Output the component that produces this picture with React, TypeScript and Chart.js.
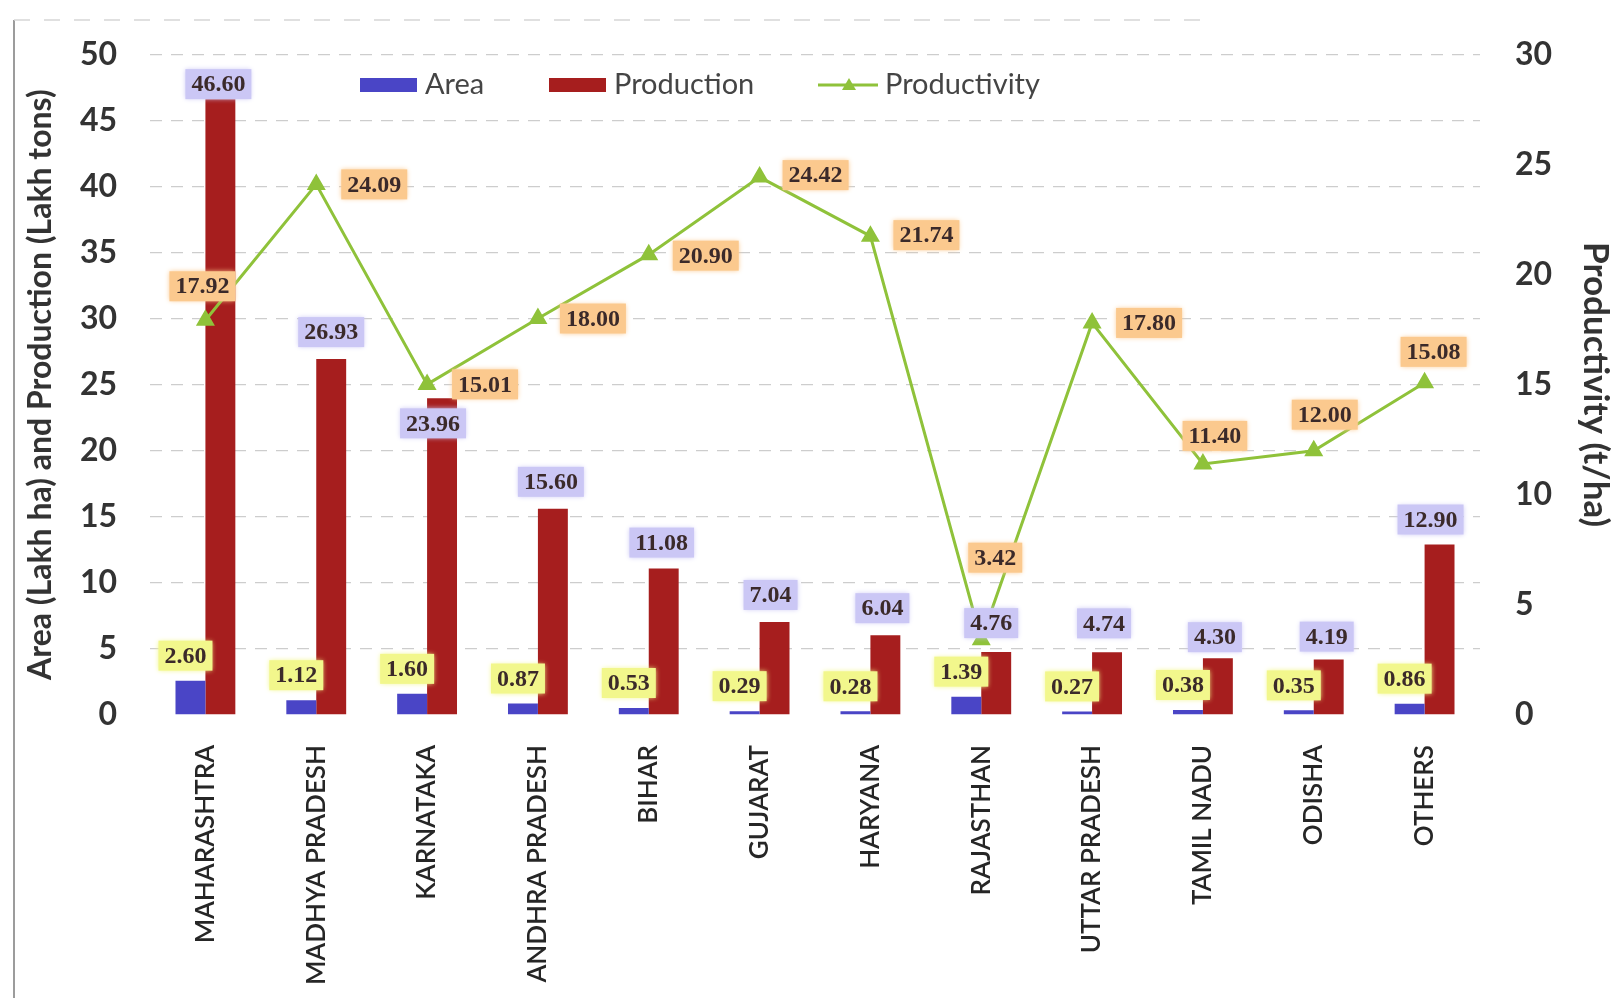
import React, { useEffect, useRef } from "react";
import { Chart, registerables } from "chart.js";

Chart.register(...registerables);

const categories = [
  "MAHARASHTRA",
  "MADHYA PRADESH",
  "KARNATAKA",
  "ANDHRA PRADESH",
  "BIHAR",
  "GUJARAT",
  "HARYANA",
  "RAJASTHAN",
  "UTTAR PRADESH",
  "TAMIL NADU",
  "ODISHA",
  "OTHERS",
];
const areaValues = [2.6, 1.12, 1.6, 0.87, 0.53, 0.29, 0.28, 1.39, 0.27, 0.38, 0.35, 0.86];
const productionValues = [46.6, 26.93, 23.96, 15.6, 11.08, 7.04, 6.04, 4.76, 4.74, 4.3, 4.19, 12.9];
const productivityValues = [17.92, 24.09, 15.01, 18.0, 20.9, 24.42, 21.74, 3.42, 17.8, 11.4, 12.0, 15.08];

const leftAxisTitle = "Area (Lakh ha) and Production (Lakh tons)";
const rightAxisTitle = "Productivity (t/ha)";

const AREA_COLOR = "#4a45c6";
const PROD_COLOR = "#a61e1e";
const LINE_COLOR = "#8fc23a";
const AREA_LABEL_BG = "#f2f78c";
const PROD_LABEL_BG = "#cbc7f5";
const LINE_LABEL_BG = "#fbc98e";
const LABEL_TEXT = "#3b2a2a";

// label placement offsets (px) relative to the mark
const areaLabelOffset: [number, number] = [-5, -25];
const productionLabelOffsets: [number, number][] = [
  [-2, -15], [0, -27], [-9, 25], [-2, -27], [-2, -26], [-4, -27],
  [-3, -27], [-5, -29], [-3, -29], [-3, -21], [-2, -23], [-9, -25],
];
const productivityLabelOffsets: [number, number][] = [
  [-3, -34], [58, 0], [58, 0], [55, 0], [57, 1], [56, -2],
  [56, -1], [14, -82], [57, 0], [12, -28], [11, -36], [9, -31],
];
const legendItemX = [360, 549, 818];

const chartPlugin = {
  id: "frameLabelsLegend",
  beforeDraw(chart: any) {
    const { ctx, width, height } = chart;
    ctx.save();
    ctx.fillStyle = "#ffffff";
    ctx.fillRect(0, 0, width, height);
    ctx.strokeStyle = "#9c9c9c";
    ctx.lineWidth = 2;
    ctx.beginPath();
    ctx.moveTo(14, 20);
    ctx.lineTo(14, height);
    ctx.stroke();
    ctx.strokeStyle = "#d6d6d6";
    ctx.lineWidth = 1.5;
    ctx.setLineDash([16, 14]);
    ctx.beginPath();
    ctx.moveTo(14, 20);
    ctx.lineTo(1200, 20);
    ctx.stroke();
    ctx.restore();
  },
  afterDatasetsDraw(chart: any) {
    const ctx = chart.ctx;
    const areaMeta = chart.getDatasetMeta(0);
    const prodMeta = chart.getDatasetMeta(1);
    const lineMeta = chart.getDatasetMeta(2);
    ctx.save();
    ctx.font = 'bold 24px "Liberation Serif"';
    ctx.textAlign = "center";
    ctx.textBaseline = "middle";
    const box = (text: string, x: number, y: number, bg: string) => {
      const w = ctx.measureText(text).width + 12;
      const h = 30;
      ctx.shadowColor = bg;
      ctx.shadowBlur = 5;
      ctx.fillStyle = bg;
      ctx.fillRect(x - w / 2, y - h / 2, w, h);
      ctx.shadowBlur = 0;
      ctx.fillStyle = LABEL_TEXT;
      ctx.fillText(text, x, y + 1);
    };
    areaMeta.data.forEach((el: any, i: number) => {
      box(areaValues[i].toFixed(2), el.x + areaLabelOffset[0], el.y + areaLabelOffset[1], AREA_LABEL_BG);
    });
    prodMeta.data.forEach((el: any, i: number) => {
      const [dx, dy] = productionLabelOffsets[i];
      box(productionValues[i].toFixed(2), el.x + dx, el.y + dy, PROD_LABEL_BG);
    });
    lineMeta.data.forEach((el: any, i: number) => {
      const [dx, dy] = productivityLabelOffsets[i];
      box(productivityValues[i].toFixed(2), el.x + dx, el.y + dy, LINE_LABEL_BG);
    });
    ctx.restore();
  },
  afterDraw(chart: any) {
    const ctx = chart.ctx;
    const ds = chart.data.datasets;
    const y = 85;
    ctx.save();
    ctx.font = '29px Lato';
    ctx.textBaseline = "middle";
    ctx.textAlign = "left";
    ds.forEach((d: any, i: number) => {
      const x = legendItemX[i];
      if (d.type === "line") {
        ctx.strokeStyle = d.borderColor;
        ctx.lineWidth = 3;
        ctx.beginPath();
        ctx.moveTo(x, y);
        ctx.lineTo(x + 60, y);
        ctx.stroke();
        ctx.fillStyle = d.borderColor;
        ctx.beginPath();
        ctx.moveTo(x + 31, y - 7);
        ctx.lineTo(x + 38, y + 5);
        ctx.lineTo(x + 24, y + 5);
        ctx.closePath();
        ctx.fill();
        ctx.fillStyle = "#454545";
        ctx.fillText(d.label, x + 67, y);
      } else {
        ctx.fillStyle = d.backgroundColor;
        ctx.fillRect(x, y - 7, 57, 14);
        ctx.fillStyle = "#454545";
        ctx.fillText(d.label, x + 65, y);
      }
    });
    ctx.restore();
  },
};

export default function App() {
  const canvasRef = useRef<HTMLCanvasElement | null>(null);

  useEffect(() => {
    document.body.style.margin = "0";
    const canvas = canvasRef.current;
    if (!canvas) return;
    const tickFont = { family: "Lato", size: 32, weight: "bold" as const };
    const chart = new Chart(canvas, {
      type: "bar",
      data: {
        labels: categories,
        datasets: [
          {
            type: "bar",
            label: "Area",
            data: areaValues,
            backgroundColor: AREA_COLOR,
            borderWidth: 0,
            yAxisID: "y",
            order: 2,
            categoryPercentage: 0.54,
            barPercentage: 1,
          },
          {
            type: "bar",
            label: "Production",
            data: productionValues,
            backgroundColor: PROD_COLOR,
            borderWidth: 0,
            yAxisID: "y",
            order: 2,
            categoryPercentage: 0.54,
            barPercentage: 1,
          },
          {
            type: "line",
            label: "Productivity",
            data: productivityValues,
            borderColor: LINE_COLOR,
            backgroundColor: LINE_COLOR,
            borderWidth: 3,
            pointStyle: "triangle",
            pointRadius: 8,
            pointBackgroundColor: LINE_COLOR,
            pointBorderColor: LINE_COLOR,
            tension: 0,
            yAxisID: "y1",
            order: 1,
          } as any,
        ],
      },
      options: {
        responsive: false,
        animation: false,
        devicePixelRatio: 1,
        layout: { padding: { top: 52, left: 0, right: 0, bottom: 0 } },
        plugins: {
          legend: { display: false },
          tooltip: { enabled: false },
        },
        scales: {
          x: {
            grid: { display: false, drawTicks: false },
            border: { display: false },
            ticks: {
              autoSkip: false,
              maxRotation: 90,
              minRotation: 90,
              padding: 30,
              color: "#262626",
              font: { family: "Lato", size: 26, weight: "600" as any },
            },
            afterFit(s: any) {
              s.height = 283;
            },
          },
          y: {
            position: "left",
            min: 0,
            max: 50,
            ticks: { stepSize: 5, padding: 33, color: "#333333", font: tickFont },
            grid: {
              color: (c: any) => (c.tick && c.tick.value === 0 ? "rgba(0,0,0,0)" : "#cdcdcd"),
              lineWidth: 1.3,
              drawTicks: false,
            },
            border: { display: false, dash: [12, 9] },
            title: {
              display: true,
              text: leftAxisTitle,
              color: "#333333",
              font: { family: "Lato", size: 32, weight: "bold", lineHeight: 1 },
              padding: { top: 25, bottom: 0 },
            },
            afterFit(s: any) {
              s.width = 150;
            },
          },
          y1: {
            position: "right",
            min: 0,
            max: 30,
            ticks: { stepSize: 5, padding: 35, color: "#333333", font: tickFont },
            grid: { display: false, drawTicks: false },
            border: { display: false },
            title: {
              display: true,
              text: rightAxisTitle,
              color: "#333333",
              font: { family: "Lato", size: 35, weight: "bold", lineHeight: 1 },
              padding: { top: 0, bottom: 0 },
            },
            afterFit(s: any) {
              s.width = 133;
            },
          },
        },
      },
      plugins: [chartPlugin],
    });
    return () => chart.destroy();
  }, []);

  return <canvas ref={canvasRef} width={1613} height={998} style={{ display: "block" }} />;
}
